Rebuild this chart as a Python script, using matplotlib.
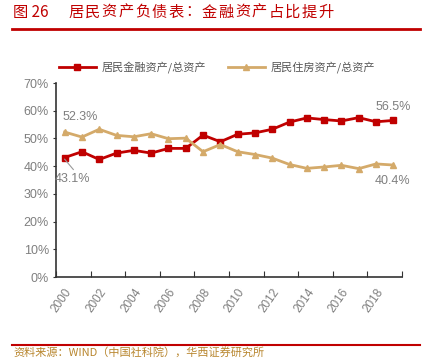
import matplotlib.pyplot as plt
import numpy as np

plt.rcParams['font.family'] = ['Liberation Sans', 'Noto Sans CJK SC', 'DejaVu Sans']

years = list(range(2000, 2020))
fin_share = [43.1, 45.2, 42.4, 44.7, 45.7, 44.7, 46.4, 46.4, 51.2, 48.8,
             51.5, 52.0, 53.3, 55.9, 57.4, 56.8, 56.3, 57.5, 56.0, 56.5]
house_share = [52.3, 50.5, 53.3, 51.1, 50.6, 51.7, 49.9, 50.1, 45.2, 47.8,
               45.2, 44.2, 42.9, 40.6, 39.2, 39.7, 40.3, 39.1, 40.8, 40.4]
tick_years = [str(y) for y in range(2000, 2019, 2)]
names = ['居民金融资产/总资产', '居民住房资产/总资产']
title_no = '图 26'
title = '居民资产负债表：金融资产占比提升'
source = '资料来源：WIND（中国社科院），华西证券研究所'

red = '#C00000'
tan = '#D4AA6A'
grey = '#7F7F7F'
cjk = ['Noto Sans CJK SC', 'DejaVu Sans']
W, H = 423, 358

fig = plt.figure(figsize=(W / 100, H / 100), dpi=100)
ax = fig.add_axes([56 / W, 1 - 277 / H, 346 / W, 194 / H])

x = np.arange(len(years))
ax.plot(x, fin_share, color=red, lw=2, marker='s', ms=4.5, label=names[0])
ax.plot(x, house_share, color=tan, lw=2, marker='^', ms=5, label=names[1])

ax.set_xlim(-0.5, len(years) - 0.5)
ax.set_ylim(0, 70)
ax.set_yticks(range(0, 71, 10))
ax.set_yticklabels([f'{v}%' for v in range(0, 71, 10)], color=grey, fontsize=9)
ax.set_xticks(np.arange(-0.5, len(years), 2))
ax.set_xticklabels([])
ax.set_xticks(np.arange(0, len(years), 2), minor=True)
ax.set_xticklabels(tick_years, minor=True, rotation=55, ha='right',
                   rotation_mode='anchor', color=grey, fontsize=8.5)
ax.tick_params(axis='x', which='major', direction='in', length=4, color='#333333')
ax.tick_params(axis='x', which='minor', length=0, pad=7)
ax.tick_params(axis='y', direction='out', length=2, color='#333333', pad=3)
for s in ['top', 'right']:
    ax.spines[s].set_visible(False)
for s in ['left', 'bottom']:
    ax.spines[s].set_color('#333333')
    ax.spines[s].set_linewidth(1.2)

ax.text(x[0] - 0.1, 57.6, f'{house_share[0]}%', color=grey, fontsize=9, ha='left', va='center')
ax.plot([x[0], x[0] + 0.5], [fin_share[0] - 0.6, 38.8], color='#999999', lw=0.8)
ax.text(x[0] - 0.55, 35.4, f'{fin_share[0]}%', color=grey, fontsize=9, ha='left', va='center')
ax.text(x[-1] + 1.0, 61.5, f'{fin_share[-1]}%', color=grey, fontsize=9, ha='right', va='center')
ax.text(x[-1] + 1.0, 34.7, f'{house_share[-1]}%', color=grey, fontsize=9, ha='right', va='center')

leg = fig.legend(loc='center', bbox_to_anchor=(217 / W, 1 - 67 / H), ncol=2, frameon=False,
                 prop={'family': cjk, 'size': 8}, handlelength=3.3, handletextpad=0.5,
                 columnspacing=2.0)
for t in leg.get_texts():
    t.set_color('#555555')

# title, characters spread out like the report style
fig.text(13 / W, 1 - 12 / H, title_no, color=red, fontsize=11, family=cjk, va='center', ha='left')
for i, ch in enumerate(title):
    fig.text((68 + i * 16.7) / W, 1 - 12 / H, ch, color=red, fontsize=11, family=cjk,
             va='center', ha='left')
fig.add_artist(plt.Line2D([12 / W, 420 / W], [1 - 29 / H] * 2, color=red, lw=2))
fig.add_artist(plt.Line2D([12 / W, 420 / W], [1 - 345 / H] * 2, color=red, lw=1.5))
fig.text(13 / W, 1 - 352 / H, source, color='#B8862E',
         fontsize=8, family=cjk, va='center', ha='left')

fig.savefig('out.png', dpi=100)
